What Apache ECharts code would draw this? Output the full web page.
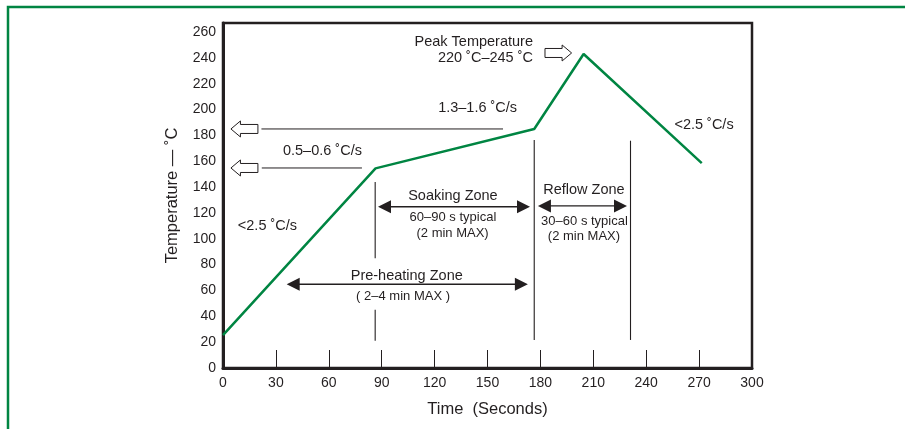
<!DOCTYPE html>
<html><head><meta charset="utf-8">
<script src="https://cdn.jsdelivr.net/npm/echarts@6/dist/echarts.min.js"></script>
<style>html,body{margin:0;padding:0;background:#fff}#c{width:905px;height:429px}</style>
</head><body><div id="c"></div>
<script>
// axes
const xTicks = [0, 30, 60, 90, 120, 150, 180, 210, 240, 270, 300];
const yTicks = [0, 20, 40, 60, 80, 100, 120, 140, 160, 180, 200, 220, 240, 260];
// reflow temperature profile (time s, temperature °C)
const profileTime = [0, 86.5, 176.5, 204.5, 271.5];
const profileTemp = [25.5, 154.5, 185, 243, 158.5];
// zone boundary lines
const zoneLineTime = [86.3, 86.3, 176.5, 231.1];
const zoneLineFrom = [85, 21, 21.7, 21.7];
const zoneLineTo = [144, 45, 176.4, 175.9];
// double-headed zone arrows
const spanStart = [87.9, 178.6, 36.1];
const spanEnd = [174.1, 229.1, 172.9];
const spanTemp = [124.8, 125.4, 64.8];
// hollow pointer arrows
const pointerTail = [19.8, 19.8, 182.6];
const pointerTip = [4.5, 4.5, 197.7];
const pointerTemp = [185, 154.8, 243.8];
// leader lines
const leaderStart = [21.8, 22];
const leaderEnd = [158.8, 78.8];
const leaderTemp = [185, 154.8];
// annotation texts
const noteText = ['Peak Temperature', '220 ˚C–245 ˚C', '1.3–1.6 ˚C/s', '0.5–0.6 ˚C/s', '<2.5 ˚C/s', '<2.5 ˚C/s',
  'Soaking Zone', '60–90 s typical', '(2 min MAX)', 'Reflow Zone', '30–60 s typical', '(2 min MAX)',
  'Pre-heating Zone', '( 2–4 min MAX )'];
const noteTime = [175.8, 175.8, 144.4, 56.4, 25.2, 272.8, 130.4, 130.4, 130.2, 204.7, 205, 204.7, 104.2, 102.1];
const noteTemp = [252, 239.6, 201.2, 168.2, 109.9, 188, 133.1, 116.3, 104.2, 137.7, 113.2, 101.7, 71.4, 55.2];

// styles
const INK = '#231f20';
const GREEN = '#008542';
const FONT = '"Liberation Sans", Arial, Helvetica, sans-serif';
const noteAlign = ['right', 'right', 'center', 'center', 'center', 'center', 'center', 'center', 'center', 'center', 'center', 'center', 'center', 'center'];
const noteSize = [14.5, 14.5, 14.5, 14.5, 14.5, 14.5, 14.5, 13, 13, 14.5, 13, 13, 14.5, 13];

const chart = echarts.init(document.getElementById('c'), null, {renderer: 'canvas'});

const option = {
  animation: false,
  backgroundColor: '#fff',
  textStyle: {fontFamily: FONT},
  graphic: [{
    type: 'rect', z: -10, silent: true,
    shape: {x: 8, y: 7, width: 1000, height: 1000},
    style: {stroke: GREEN, fill: 'none', lineWidth: 2.5}
  }],
  grid: {left: 223, right: 153, top: 23, bottom: 61, show: true, borderColor: INK, borderWidth: 2.5, backgroundColor: 'transparent'},
  xAxis: {
    type: 'value', min: xTicks[0], max: xTicks[xTicks.length - 1], interval: 30,
    name: 'Time  (Seconds)', nameLocation: 'middle', nameGap: 33,
    nameTextStyle: {fontSize: 16.5, color: INK, fontFamily: FONT},
    axisLine: {show: true, lineStyle: {color: INK, width: 3}},
    axisTick: {show: true, inside: true, length: 18, lineStyle: {color: INK, width: 1}},
    axisLabel: {fontSize: 14, color: INK, margin: 8, fontFamily: FONT},
    splitLine: {show: false}
  },
  yAxis: {
    type: 'value', min: 0, max: 267, interval: 20,
    name: 'Temperature — ˚C', nameLocation: 'middle', nameGap: 42, nameRotate: 90,
    nameTextStyle: {fontSize: 16.5, color: INK, fontFamily: FONT},
    axisLine: {show: true, lineStyle: {color: INK, width: 3}},
    axisTick: {show: false},
    axisLabel: {fontSize: 14, color: INK, margin: 7, fontFamily: FONT, showMaxLabel: false,
      formatter: v => yTicks.indexOf(v) >= 0 ? String(v) : ''},
    splitLine: {show: false}
  },
  series: [
    {
      type: 'line', name: 'profile', showSymbol: false, z: 5,
      data: profileTime.map((t, i) => [t, profileTemp[i]]),
      lineStyle: {color: GREEN, width: 2.5}, itemStyle: {color: GREEN}
    },
    {
      type: 'custom', name: 'zoneLines', z: 3,
      data: zoneLineTime.map((t, i) => [t, zoneLineFrom[i], zoneLineTo[i]]),
      renderItem: (params, api) => {
        const a = api.coord([api.value(0), api.value(1)]);
        const b = api.coord([api.value(0), api.value(2)]);
        return {type: 'line', shape: {x1: a[0], y1: a[1], x2: b[0], y2: b[1]}, style: {stroke: INK, lineWidth: 1.1}};
      }
    },
    {
      type: 'custom', name: 'leaders', z: 3,
      data: leaderStart.map((s, i) => [s, leaderTemp[i], leaderEnd[i]]),
      renderItem: (params, api) => {
        const a = api.coord([api.value(0), api.value(1)]);
        const b = api.coord([api.value(2), api.value(1)]);
        return {type: 'line', shape: {x1: a[0], y1: a[1], x2: b[0], y2: b[1]}, style: {stroke: INK, lineWidth: 1}};
      }
    },
    {
      type: 'custom', name: 'spans', z: 4,
      data: spanStart.map((s, i) => [s, spanTemp[i], spanEnd[i]]),
      renderItem: (params, api) => {
        const a = api.coord([api.value(0), api.value(1)]);
        const b = api.coord([api.value(2), api.value(1)]);
        const L = 13, H = 6.5, y = a[1];
        return {type: 'group', children: [
          {type: 'line', shape: {x1: a[0] + L - 1, y1: y, x2: b[0] - L + 1, y2: y}, style: {stroke: INK, lineWidth: 1.3}},
          {type: 'polygon', shape: {points: [[a[0], y], [a[0] + L, y - H], [a[0] + L, y + H]]}, style: {fill: INK}},
          {type: 'polygon', shape: {points: [[b[0], y], [b[0] - L, y - H], [b[0] - L, y + H]]}, style: {fill: INK}}
        ]};
      }
    },
    {
      type: 'custom', name: 'pointers', z: 4,
      data: pointerTail.map((s, i) => [s, pointerTemp[i], pointerTip[i]]),
      renderItem: (params, api) => {
        const tail = api.coord([api.value(0), api.value(1)]);
        const tip = api.coord([api.value(2), api.value(1)]);
        const d = tip[0] > tail[0] ? 1 : -1;
        const y = tail[1], hl = 9.5, hh = 8, sh = 4.5;
        const hb = tip[0] - d * hl;
        return {type: 'polygon', shape: {points: [
          [tip[0], y], [hb, y - hh], [hb, y - sh], [tail[0], y - sh], [tail[0], y + sh], [hb, y + sh], [hb, y + hh]
        ]}, style: {fill: '#fff', stroke: INK, lineWidth: 1}};
      }
    },
    {
      type: 'custom', name: 'notes', z: 6,
      data: noteTime.map((t, i) => [t, noteTemp[i]]),
      renderItem: (params, api) => {
        const i = params.dataIndex;
        const p = api.coord([api.value(0), api.value(1)]);
        return {type: 'text', x: p[0], y: p[1], style: {
          text: noteText[i], fill: INK, fontSize: noteSize[i], fontFamily: FONT,
          align: noteAlign[i], verticalAlign: 'middle'
        }};
      }
    }
  ]
};
chart.setOption(option);
</script>
</body></html>
